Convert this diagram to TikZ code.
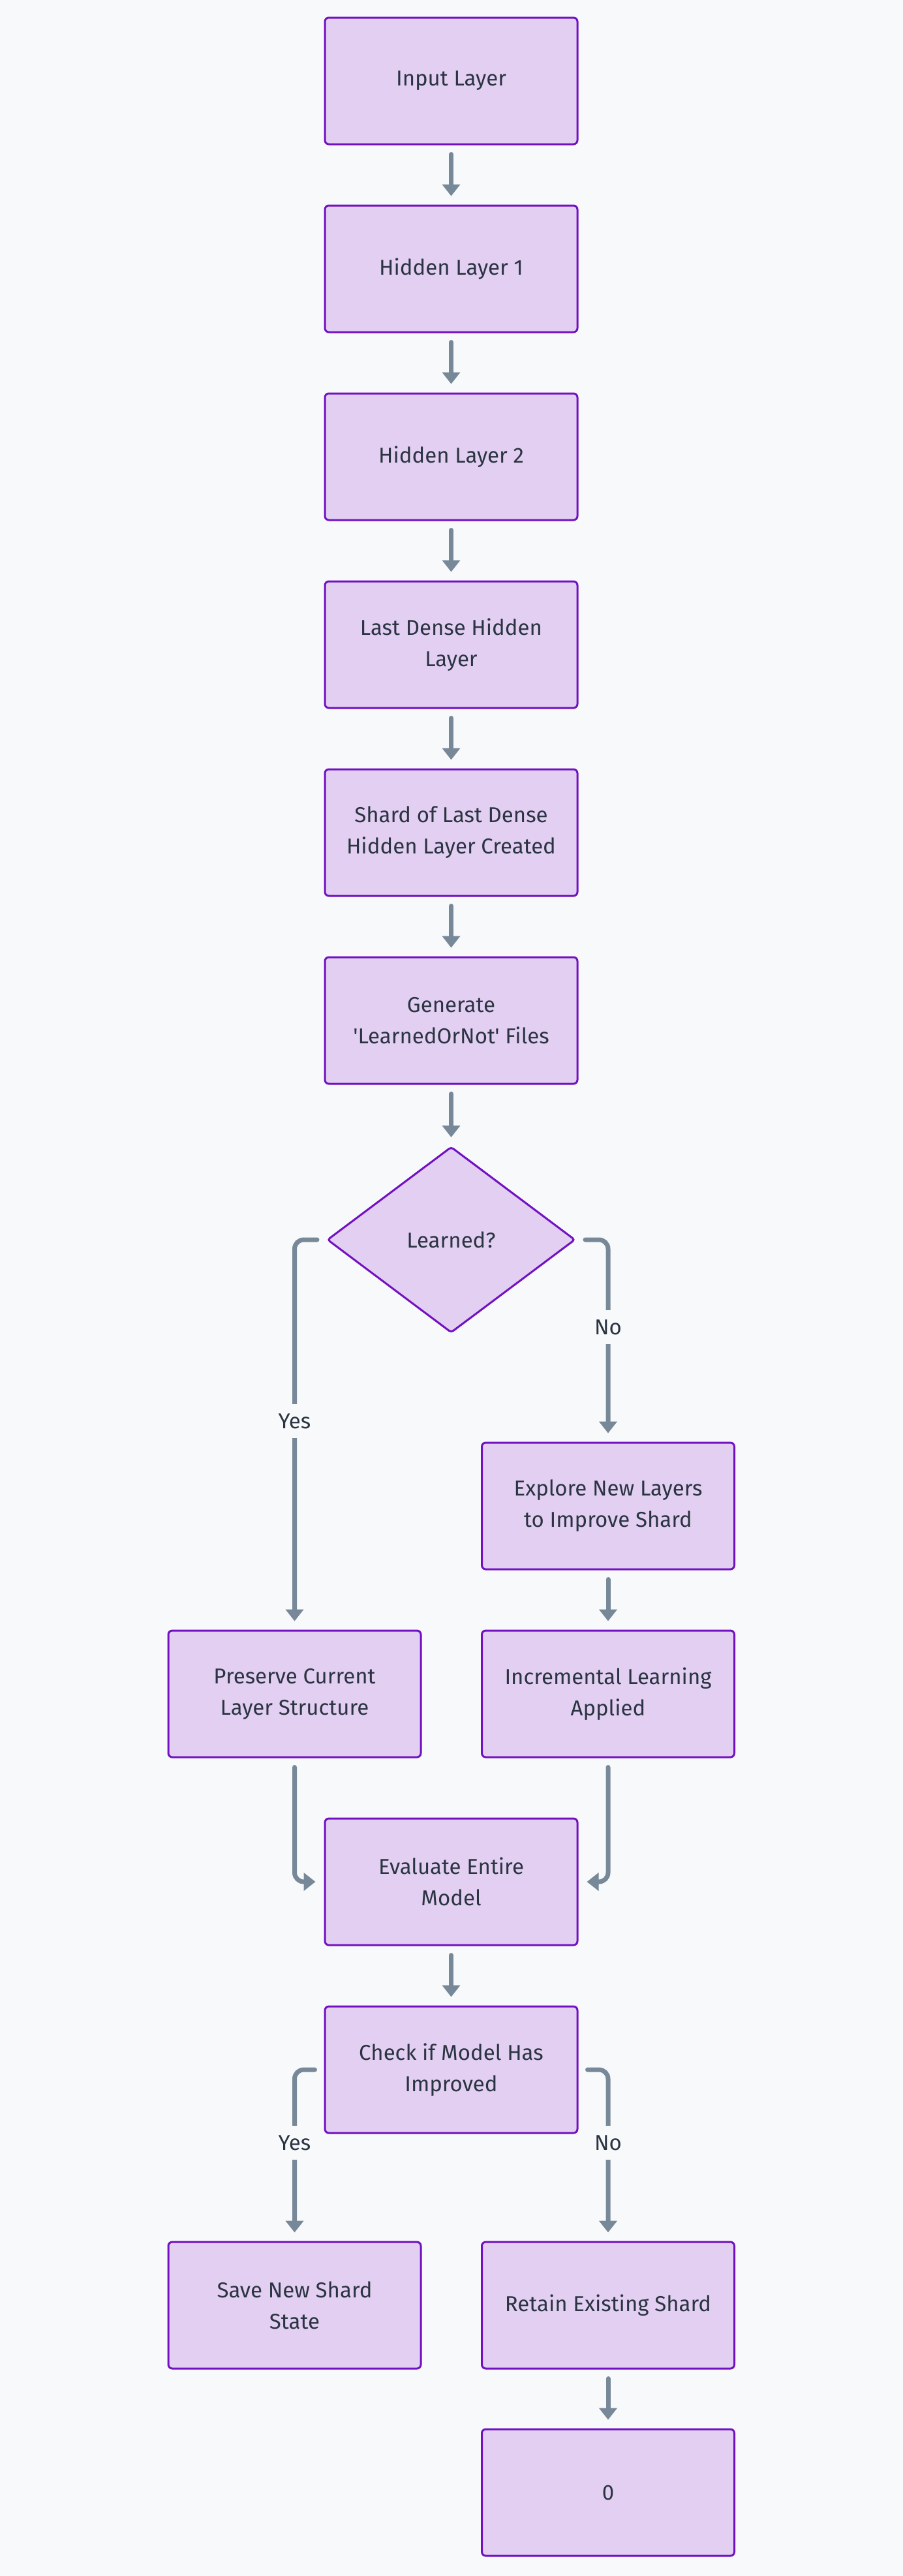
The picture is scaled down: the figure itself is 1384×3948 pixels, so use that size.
\documentclass[tikz,border=0pt]{standalone}
\usepackage{fontspec}
\newfontfamily\ff{Fira Sans}
\usetikzlibrary{arrows.meta,shapes.geometric}
\definecolor{bgc}{HTML}{F8F9FA}
\definecolor{boxfill}{HTML}{E2CFF2}
\definecolor{boxdraw}{HTML}{7211C1}
\definecolor{edgec}{HTML}{778899}
\definecolor{txt}{HTML}{2B3442}
\begin{document}
\begin{tikzpicture}[x=0.5pt,y=-0.5pt,
  txtfont/.style={text=txt, font=\ff\fontsize{16.5}{24}\selectfont},
  proc/.style={rectangle, rounded corners=3pt, draw=boxdraw, fill=boxfill, line width=1.5pt,
    minimum width=193.5pt, minimum height=97pt, inner sep=0pt, align=center, txtfont},
  dec/.style={diamond, aspect=1.333, draw=boxdraw, fill=boxfill, line width=1.5pt,
    minimum width=190pt, minimum height=142.5pt, inner sep=0pt, rounded corners=2pt, txtfont},
  flow/.style={draw=edgec, line width=3.5pt, line cap=round, rounded corners=7pt,
    -{Triangle[width=13.5pt,length=9pt]}, shorten <=7pt, shorten >=6.5pt},
  lbl/.style={fill=bgc, txtfont, inner xsep=2pt, inner ysep=0pt, minimum height=26pt}
]
\fill[bgc] (0,0) rectangle (1384,3948);
\useasboundingbox (0,0) rectangle (1384,3948);

\node[proc] (in) at (691.5,124) {Input Layer};
\node[proc] (h1) at (691.5,412) {Hidden Layer 1};
\node[proc] (h2) at (691.5,700) {Hidden Layer 2};
\node[proc] (last) at (691.5,988) {Last Dense Hidden\\Layer};
\node[proc] (shard) at (691.5,1276) {Shard of Last Dense\\Hidden Layer Created};
\node[proc] (gen) at (691.5,1564) {Generate\\'LearnedOrNot' Files};
\node[dec] (learned) at (691.5,1900) {Learned?};
\node[proc] (explore) at (932,2308) {Explore New Layers\\to Improve Shard};
\node[proc] (preserve) at (451.5,2596) {Preserve Current\\Layer Structure};
\node[proc] (incr) at (932,2596) {Incremental Learning\\Applied};
\node[proc] (eval) at (691.5,2884) {Evaluate Entire\\Model};
\node[proc] (check) at (691.5,3172) {Check if Model Has\\Improved};
\node[proc] (save) at (451.5,3533) {Save New Shard\\State};
\node[proc] (retain) at (932,3533) {Retain Existing Shard};
\node[proc] (zero) at (932,3820) {0};

\draw[flow] (in) -- (h1);
\draw[flow] (h1) -- (h2);
\draw[flow] (h2) -- (last);
\draw[flow] (last) -- (shard);
\draw[flow] (shard) -- (gen);
\draw[flow] (gen) -- (learned);
\draw[flow] (learned.west) -| (preserve.north);
\draw[flow] (learned.east) -| (explore.north);
\draw[flow] (explore) -- (incr);
\draw[flow] (preserve.south) |- (eval.west);
\draw[flow] (incr.south) |- (eval.east);
\draw[flow] (eval) -- (check);
\draw[flow] (check.west) -| (save.north);
\draw[flow] (check.east) -| (retain.north);
\draw[flow] (retain) -- (zero);

\node[lbl] (l1) at (451.5,2178) {Yes};
\node[lbl] (l2) at (932,2034) {No};
\node[lbl] (l3) at (451.5,3284) {Yes};
\node[lbl] (l4) at (932,3284) {No};
\end{tikzpicture}
\end{document}
